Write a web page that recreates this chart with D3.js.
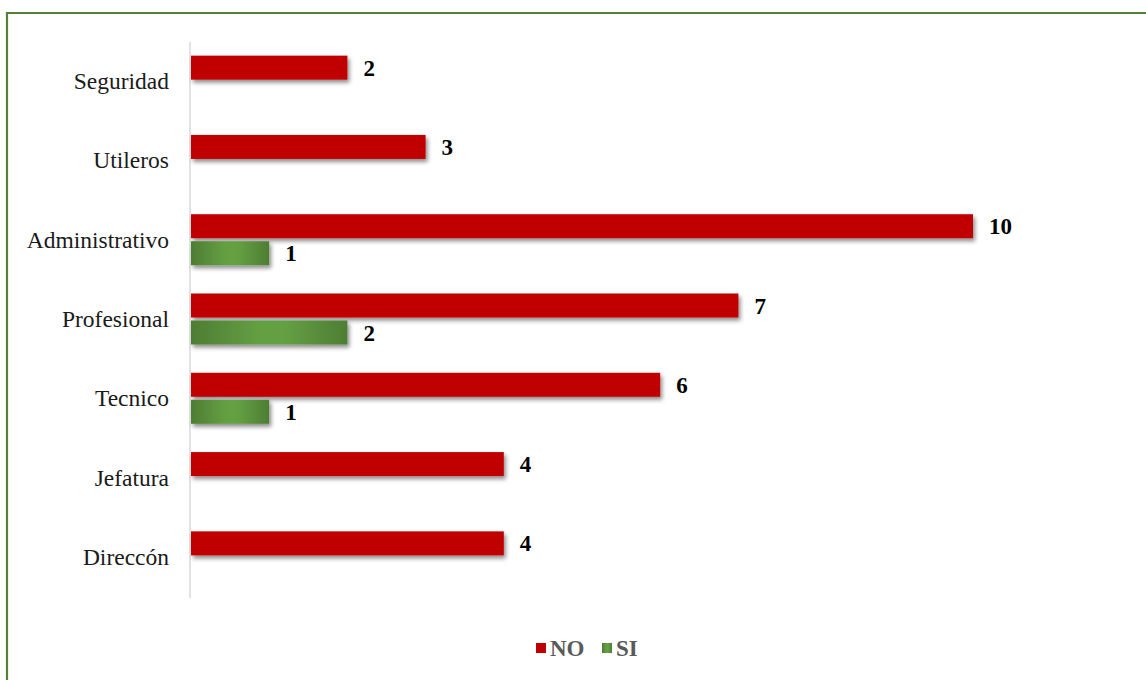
<!DOCTYPE html>
<html>
<head>
<meta charset="utf-8">
<script src="https://cdn.jsdelivr.net/npm/d3@7"></script>
<style>
  html, body { margin: 0; padding: 0; background: #ffffff; }
  svg { display: block; }
</style>
</head>
<body>
<div id="chart"></div>
<script>
// Categories listed top to bottom
const categories = ["Seguridad", "Utileros", "Administrativo", "Profesional", "Tecnico", "Jefatura", "Direccón"];
// "NO" answers per category
const noValues = [2, 3, 10, 7, 6, 4, 4];
// "SI" answers per category (null = no bar)
const siValues = [null, null, 1, 2, 1, null, null];
const seriesNames = ["NO", "SI"];

const W = 1146, H = 680;
const svg = d3.select("#chart").append("svg")
  .attr("width", W).attr("height", H);

const defs = svg.append("defs");
const shadow = defs.append("filter").attr("id", "barShadow")
  .attr("x", "-5%").attr("y", "-30%").attr("width", "115%").attr("height", "190%");
shadow.append("feDropShadow")
  .attr("dx", 2).attr("dy", 3).attr("stdDeviation", 2.2)
  .attr("flood-color", "#000").attr("flood-opacity", 0.45);

const greenGrad = defs.append("linearGradient").attr("id", "greenGrad")
  .attr("x1", "0%").attr("x2", "100%").attr("y1", "0%").attr("y2", "0%");
[["0%", "#4e7d33"], ["45%", "#64a043"], ["60%", "#64a043"], ["100%", "#4e7d33"]]
  .forEach(([o, c]) => greenGrad.append("stop").attr("offset", o).attr("stop-color", c));

// Outer frame (top and left edges visible)
svg.append("path")
  .attr("d", `M7,${H} L7,13 L${W},13`)
  .attr("fill", "none").attr("stroke", "#538135").attr("stroke-width", 2.2);

const x = d3.scaleLinear().domain([0, 10]).range([191, 973]);
const y = d3.scaleBand().domain(categories).range([42, 597]);

// Vertical category axis line
svg.append("line")
  .attr("x1", 190).attr("x2", 190).attr("y1", 42).attr("y2", 598)
  .attr("stroke", "#d9d9d9").attr("stroke-width", 1.5);

const labelFont = "'Liberation Serif', 'Times New Roman', serif";

// Category labels
const yAxis = d3.axisLeft(y).tickSize(0).tickPadding(0);
const gy = svg.append("g").attr("transform", "translate(169,0)").call(yAxis);
gy.select(".domain").remove();
gy.selectAll("text")
  .attr("font-family", labelFont)
  .attr("font-size", "23.5px").attr("fill", "#1a1a1a")
  .attr("dy", "0.32em");

const barH = 24;
const rows = categories.map((c, i) => ({ cat: c, no: noValues[i], si: siValues[i] }));

// NO bars
svg.append("g").selectAll("rect").data(rows).join("rect")
  .attr("x", x(0))
  .attr("y", d => y(d.cat) + y.bandwidth() / 2 - barH - 2)
  .attr("width", d => x(d.no) - x(0))
  .attr("height", barH)
  .attr("fill", "#c00000")
  .attr("filter", "url(#barShadow)");

// SI bars
svg.append("g").selectAll("rect").data(rows.filter(d => d.si != null)).join("rect")
  .attr("x", x(0))
  .attr("y", d => y(d.cat) + y.bandwidth() / 2 + 1)
  .attr("width", d => x(d.si) - x(0))
  .attr("height", barH)
  .attr("fill", "url(#greenGrad)")
  .attr("filter", "url(#barShadow)");

// Value labels
svg.append("g").selectAll("text").data(rows).join("text")
  .attr("x", d => x(d.no) + 16)
  .attr("y", d => y(d.cat) + y.bandwidth() / 2 - barH / 2 - 2)
  .attr("dy", "0.35em")
  .attr("font-family", labelFont).attr("font-weight", "bold")
  .attr("font-size", "23px").attr("fill", "#000")
  .text(d => d.no);

svg.append("g").selectAll("text").data(rows.filter(d => d.si != null)).join("text")
  .attr("x", d => x(d.si) + 16)
  .attr("y", d => y(d.cat) + y.bandwidth() / 2 + 1 + barH / 2)
  .attr("dy", "0.35em")
  .attr("font-family", labelFont).attr("font-weight", "bold")
  .attr("font-size", "23px").attr("fill", "#000")
  .text(d => d.si);

// Legend
const legend = svg.append("g").attr("transform", "translate(536,648)");
const legendItems = [
  { name: seriesNames[0], fill: "#c00000", dx: 0 },
  { name: seriesNames[1], fill: "url(#greenGrad)", dx: 66 }
];
legendItems.forEach(it => {
  const g = legend.append("g").attr("transform", `translate(${it.dx},0)`);
  g.append("rect").attr("x", 0).attr("y", -5).attr("width", 10).attr("height", 10)
    .attr("fill", it.fill);
  g.append("text").attr("x", 14).attr("y", 0).attr("dy", "0.35em")
    .attr("font-family", labelFont).attr("font-weight", "bold")
    .attr("font-size", "23px").attr("fill", "#595959")
    .text(it.name);
});
</script>
</body>
</html>
